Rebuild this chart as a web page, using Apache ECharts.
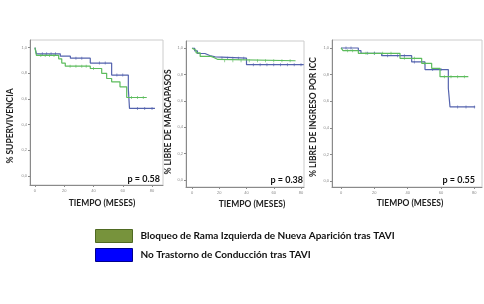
<!DOCTYPE html>
<html>
<head>
<meta charset="utf-8">
<script src="https://cdn.jsdelivr.net/npm/echarts@6/dist/echarts.min.js"></script>
<style>
  body { margin: 0; background: #fff; }
  #chart { width: 484px; height: 304px; }
</style>
</head>
<body>
<div id="chart"></div>
<script>
(function(){
    // nombres de los grupos
    var grupoBloqueo = 'Bloqueo de Rama Izquierda de Nueva Aparición tras TAVI';
    var grupoNo = 'No Trastorno de Conducción tras TAVI';

    var xTicks = [0, 20, 40, 60, 80];
    var yTicks = [0, 0.2, 0.4, 0.6, 0.8, 1.0];

    var yTitles = ['% SUPERVIVENCIA', '% LIBRE DE MARCAPASOS', '% LIBRE DE INGRESO POR ICC'];
    var pValues = ['p = 0.58', 'p = 0.38', 'p = 0.55'];

    // curvas Kaplan-Meier [meses, proporcion]
    var supBloqueo = [[0,1],[1,0.94],[16.2,0.913],[18.3,0.88],[20.7,0.856],[37.8,0.838],[45.6,0.80],[49,0.76],[52.4,0.734],[58.1,0.695],[62.7,0.612],[76.4,0.612]];
    var supNo = [[0,1],[1,0.952],[17.3,0.934],[24.2,0.918],[37.8,0.88],[52.4,0.787],[63.8,0.68],[64.6,0.527],[82,0.527]];
    var mpBloqueo = [[0,1],[1,0.985],[3,0.965],[6,0.938],[14,0.93],[16,0.915],[19,0.905],[76,0.905]];
    var mpNo = [[0,1],[2,0.98],[4,0.96],[9.5,0.945],[13,0.935],[17,0.925],[40,0.875],[82,0.875]];
    var iccBloqueo = [[0,1],[1.2,0.98],[10.4,0.96],[35.4,0.922],[48.4,0.885],[54.4,0.847],[59.4,0.784],[76.4,0.784]];
    var iccNo = [[0,1],[10.4,0.98],[12,0.96],[24.4,0.942],[42.4,0.895],[50.4,0.838],[64.4,0.697],[65.4,0.557],[80.5,0.557]];

    // casos censurados
    var censSupBloqueo = [[4,0.94],[7,0.94],[10,0.94],[13,0.94],[24,0.856],[28,0.856],[32,0.856],[35,0.856],[40,0.838],[66,0.612],[70,0.612],[74,0.612]];
    var censSupNo = [[5,0.952],[8,0.952],[11,0.952],[14,0.952],[28,0.918],[32,0.918],[44,0.88],[48,0.88],[56,0.787],[60,0.787],[70,0.527],[75,0.527],[80,0.527]];
    var censMpBloqueo = [[24,0.905],[30,0.905],[36,0.905],[42,0.905],[48,0.905],[54,0.905],[60,0.905],[66,0.905],[72,0.905]];
    var censMpNo = [[22,0.925],[26,0.925],[30,0.925],[34,0.925],[38,0.925],[45,0.875],[50,0.875],[55,0.875],[60,0.875],[65,0.875],[70,0.875],[75,0.875],[80,0.875]];
    var censIccBloqueo = [[4,0.98],[7,0.98],[15,0.96],[20,0.96],[25,0.96],[30,0.96],[38,0.922],[44,0.922],[50,0.885],[62,0.784],[66,0.784],[70,0.784],[74,0.784]];
    var censIccNo = [[3,1],[6,1],[16,0.96],[20,0.96],[28,0.942],[34,0.942],[38,0.942],[44,0.895],[55,0.838],[60,0.838],[70,0.557],[75,0.557],[80,0.557]];

    var verde = '#5cbc5c';
    var azul = '#5463ae';
    var fuente = 'Lato, "Liberation Sans", sans-serif';

    var grids = [
        {left: 30, top: 40, width: 133, height: 145},
        {left: 186, top: 41, width: 118, height: 146},
        {left: 332, top: 40, width: 150, height: 147}
    ];
    var xRanges = [[-3.4, 87.5], [-4.4, 82.2], [-5.4, 84.6]];
    var yRanges = [[-0.07, 1.06], [-0.053, 1.055], [-0.045, 1.06]];

    var curvas = [[supBloqueo, supNo], [mpBloqueo, mpNo], [iccBloqueo, iccNo]];
    var censuras = [[censSupBloqueo, censSupNo], [censMpBloqueo, censMpNo], [censIccBloqueo, censIccNo]];

    var option = {
        animation: false,
        backgroundColor: '#fff',
        grid: [], xAxis: [], yAxis: [], series: [], graphic: []
    };

    grids.forEach(function(g, i){
        option.grid.push({left: g.left, top: g.top, width: g.width, height: g.height,
            show: true, borderColor: '#cccccc', borderWidth: 1, backgroundColor: 'transparent'});
        option.xAxis.push({
            type: 'value', gridIndex: i, min: xRanges[i][0], max: xRanges[i][1],
            axisLine: {show: true, onZero: false, lineStyle: {color: '#8a8a8a', width: 1}},
            axisTick: {show: true, length: 2, customValues: xTicks, lineStyle: {color: '#8a8a8a'}},
            axisLabel: {customValues: xTicks, fontSize: 4, color: '#888', margin: 4},
            splitLine: {show: false}
        });
        option.yAxis.push({
            type: 'value', gridIndex: i, min: yRanges[i][0], max: yRanges[i][1],
            axisLine: {show: true, onZero: false, lineStyle: {color: '#8a8a8a', width: 1}},
            axisTick: {show: true, length: 2, customValues: yTicks, lineStyle: {color: '#8a8a8a'}},
            axisLabel: {customValues: yTicks, fontSize: 4, color: '#888', margin: 3,
                formatter: function(v){ return v.toFixed(1).replace('.', ','); }},
            splitLine: {show: false}
        });
        [grupoBloqueo, grupoNo].forEach(function(nombre, k){
            var color = k === 0 ? verde : azul;
            option.series.push({
                name: nombre, type: 'line', step: 'end', xAxisIndex: i, yAxisIndex: i,
                data: curvas[i][k], showSymbol: false, color: color,
                lineStyle: {width: 1.2, color: color}, z: k === 0 ? 3 : 2
            });
            option.series.push({
                name: 'cens' + i + k, type: 'scatter', xAxisIndex: i, yAxisIndex: i,
                data: censuras[i][k], symbol: 'rect', symbolSize: [0.8, 3],
                itemStyle: {color: color}, silent: true
            });
        });
    });

    // titulos y valores p
    var yTitlePos = [[10, 126], [168, 122], [313, 117]];
    var xTitlePos = [[102, 203], [252, 204], [410, 203]];
    var pPos = [[160, 179], [303, 180], [475, 180]];
    yTitles.forEach(function(t, i){
        option.graphic.push({type: 'text', x: yTitlePos[i][0], y: yTitlePos[i][1], rotation: Math.PI / 2,
            style: {text: t, fill: '#222', font: 'bold 8.5px ' + fuente, textAlign: 'center', textVerticalAlign: 'middle'}});
        option.graphic.push({type: 'text', x: xTitlePos[i][0], y: xTitlePos[i][1],
            style: {text: 'TIEMPO (MESES)', fill: '#222', font: 'bold 8.5px ' + fuente, textAlign: 'center', textVerticalAlign: 'middle'}});
        option.graphic.push({type: 'text', x: pPos[i][0], y: pPos[i][1],
            style: {text: pValues[i], fill: '#111', font: 'bold 9px ' + fuente, textAlign: 'right', textVerticalAlign: 'middle'}});
    });

    option.legend = {
        orient: 'vertical', left: 90, top: 224, itemWidth: 37, itemHeight: 13, itemGap: 5,
        icon: 'rect', selectedMode: false,
        textStyle: {fontSize: 10, fontWeight: 'bold', color: '#111', fontFamily: fuente, padding: [0, 0, 0, 3]},
        data: [
            {name: grupoBloqueo, itemStyle: {color: '#77933c', borderColor: '#4f6a22', borderWidth: 1}},
            {name: grupoNo, itemStyle: {color: '#0000ff', borderColor: '#00008b', borderWidth: 1}}
        ]
    };

    var myChart = echarts.init(document.getElementById('chart'));
    myChart.setOption(option);
}());
</script>
</body>
</html>
